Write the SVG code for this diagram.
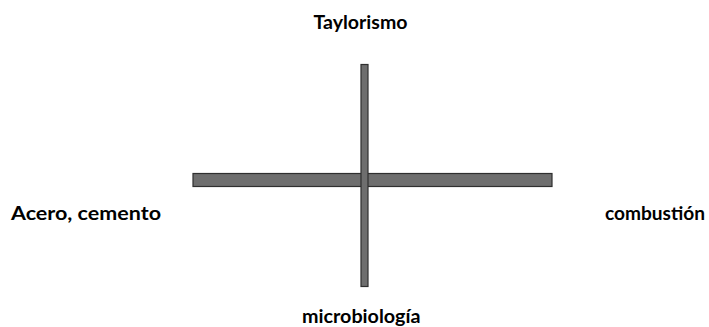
<svg xmlns="http://www.w3.org/2000/svg" width="709" height="327" viewBox="0 0 709 327">
  <style>
    .bar { fill: #6e6e6e; stroke: #2f2f2f; stroke-width: 1.2; }
    .label { font-family: "Lato", "Open Sans", "Liberation Sans", sans-serif; font-weight: bold; font-size: 18.5px; fill: #000; }
  </style>
  <rect width="709" height="327" fill="#fff"/>
  <g id="axes">
    <rect id="axis-h" class="bar" x="193" y="173.5" width="359" height="13"/>
    <rect id="axis-v" class="bar" x="361" y="64.5" width="7" height="222"/>
  </g>
  <g id="top"><text class="label" x="313.5" y="29" textLength="94" lengthAdjust="spacingAndGlyphs">Taylorismo</text></g>
  <g id="left"><text class="label" x="11" y="220" textLength="150" lengthAdjust="spacingAndGlyphs">Acero, cemento</text></g>
  <g id="right"><text class="label" x="605" y="220" textLength="100" lengthAdjust="spacingAndGlyphs">combustión</text></g>
  <g id="bottom"><text class="label" x="302" y="323" textLength="118.5" lengthAdjust="spacingAndGlyphs">microbiología</text></g>
</svg>
